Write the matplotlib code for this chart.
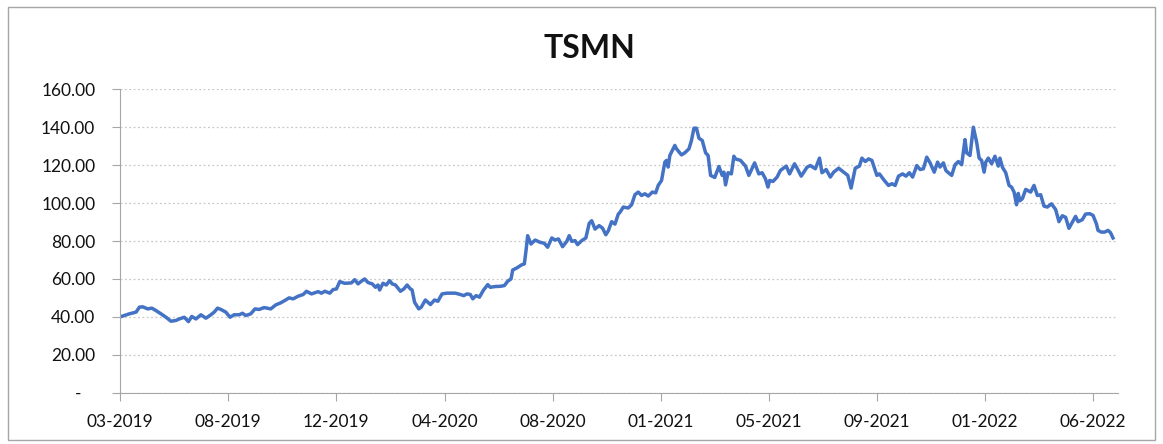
import pandas as pd
import matplotlib.pyplot as plt
import matplotlib.dates as mdates
from matplotlib.patches import Rectangle

# Serie TSMN: dias desde 25-03-2019 y precio de cierre
dias = [0, 11, 19, 23, 27, 33, 38, 43, 49, 55, 61, 67, 71, 77, 82, 86, 91, 97, 103,
        109, 113, 117, 121, 127, 132, 137, 143, 147, 151, 157, 162, 167, 173, 181,
        187, 193, 199, 203, 208, 214, 220, 224, 230, 238, 242, 246, 252, 256, 260,
        264, 270, 278, 282, 286, 290, 294, 298, 303, 307, 310, 312, 316, 320, 324,
        327, 331, 337, 341, 345, 349, 351, 354, 359, 362, 367, 373, 378, 382, 387,
        393, 399, 403, 409, 413, 417, 421, 424, 428, 432, 437, 442, 445, 451, 457,
        462, 466, 470, 472, 477, 483, 486, 488, 490, 494, 499, 505, 510, 514, 519,
        523, 527, 532, 537, 540, 543, 547, 550, 555, 560, 564, 567, 571, 576, 580,
        584, 587, 591, 595, 599, 601, 605, 611, 615, 619, 623, 627, 631, 635, 640,
        644, 647, 651, 655, 657, 659, 661, 667, 669, 675, 679, 684, 687, 690, 693,
        696, 700, 704, 707, 710, 715, 720, 724, 726, 728, 731, 735, 738, 740, 746,
        752, 756, 763, 768, 772, 776, 779, 781, 785, 790, 794, 801, 805, 811, 814,
        819, 826, 830, 836, 841, 844, 849, 854, 858, 864, 870, 875, 879, 884, 889,
        892, 896, 900, 904, 910, 913, 919, 924, 928, 932, 936, 941, 945, 949, 953,
        958, 962, 966, 970, 974, 979, 983, 986, 990, 993, 996, 1000, 1004, 1008,
        1012, 1016, 1018, 1022, 1026, 1030, 1033, 1036, 1039, 1041, 1044, 1048,
        1052, 1056, 1058, 1061, 1065, 1069, 1072, 1075, 1078, 1080, 1082, 1085,
        1089, 1095, 1099, 1103, 1107, 1111, 1115, 1120, 1125, 1129, 1133, 1137,
        1141, 1145, 1149, 1152, 1157, 1161, 1166, 1170, 1174, 1176, 1180, 1184,
        1188, 1191, 1194]

precio = [40.0, 41.6, 42.5, 45.1, 45.3, 44.2, 44.6, 43.3, 41.6, 39.8, 37.7, 38.1, 38.9,
          39.8, 37.5, 40.2, 38.9, 41.1, 39.3, 41.1, 42.5, 44.6, 43.9, 42.5, 39.8, 41.1,
          41.1, 41.9, 40.7, 41.6, 44.2, 43.9, 44.9, 44.2, 46.3, 47.4, 48.9, 50.0, 49.5,
          50.9, 51.8, 53.5, 52.1, 53.3, 52.5, 53.5, 52.5, 54.4, 54.7, 58.6, 57.7, 57.9,
          59.6, 57.4, 58.8, 60.0, 58.1, 57.4, 55.6, 56.8, 54.2, 57.7, 56.8, 59.1, 57.4,
          56.8, 53.5, 54.7, 56.8, 54.7, 54.2, 47.7, 44.2, 45.1, 48.9, 46.5, 48.9, 48.2,
          52.1, 52.5, 52.5, 52.5, 51.8, 51.2, 52.1, 51.8, 49.5, 51.2, 50.4, 54.2, 57.0,
          55.6, 56.0, 56.1, 56.5, 58.8, 60.0, 64.7, 65.8, 67.5, 67.9, 74.9, 82.8, 78.4,
          80.5, 79.3, 78.8, 76.7, 81.6, 80.5, 81.1, 77.0, 79.8, 82.8, 79.8, 80.2, 78.1,
          80.2, 81.6, 89.3, 90.7, 86.3, 88.1, 86.8, 83.3, 85.4, 90.2, 88.9, 94.2, 95.1,
          97.9, 97.4, 99.1, 104.4, 105.8, 104.0, 104.9, 103.7, 105.8, 105.4, 109.3,
          111.9, 121.6, 122.5, 119.0, 125.1, 130.4, 128.6, 125.4, 126.5, 128.6, 133.0,
          139.5, 139.5, 134.2, 133.0, 126.5, 125.1, 114.6, 113.5, 119.3, 114.6, 116.3,
          109.6, 116.0, 115.4, 124.7, 123.3, 122.5, 119.5, 114.6, 121.2, 115.4, 116.0,
          112.8, 108.4, 111.9, 111.4, 113.7, 117.2, 119.5, 115.4, 120.7, 118.4, 114.2,
          118.9, 119.8, 118.1, 123.7, 116.0, 117.7, 113.7, 116.3, 118.4, 116.3, 114.6,
          107.9, 118.4, 119.5, 123.7, 121.9, 123.3, 122.5, 114.6, 115.4, 111.9, 109.3,
          110.2, 109.3, 114.2, 115.4, 114.2, 116.0, 113.7, 119.8, 117.7, 118.1, 124.2,
          121.2, 116.3, 121.6, 119.0, 121.2, 117.2, 116.0, 114.6, 120.2, 121.9, 120.2,
          133.5, 126.5, 125.1, 140.0, 132.1, 123.7, 122.5, 116.3, 121.6, 123.7, 120.7,
          124.7, 119.5, 123.7, 118.9, 116.0, 109.3, 108.4, 105.8, 99.1, 105.1, 101.2,
          102.3, 107.2, 105.8, 109.3, 104.0, 104.4, 98.4, 97.9, 99.6, 96.6, 90.2, 93.3,
          92.5, 86.7, 89.8, 93.0, 90.2, 91.2, 94.2, 94.4, 93.5, 89.1, 85.6, 84.7, 84.7,
          85.6, 84.4, 81.6]

inicio = pd.Timestamp('2019-03-25')
fechas = inicio + pd.to_timedelta(dias, unit='D')

# marcas del eje x (cada 130 dias, como en Excel)
marcas = ['2019-03-25', '2019-08-02', '2019-12-10', '2020-04-18', '2020-08-26',
          '2021-01-03', '2021-05-13', '2021-09-20', '2022-01-28', '2022-06-07']

plt.rcParams['font.family'] = ['Lato', 'DejaVu Sans']

fig = plt.figure(figsize=(11.63, 4.44), dpi=100)
fig.patches.append(Rectangle((0.007, 0.008), 0.986, 0.976, transform=fig.transFigure,
                             fill=False, edgecolor='#a6a6a6', linewidth=1.0))
ax = fig.add_axes([0.1034, 0.1155, 0.8579, 0.6834])

ax.plot(fechas, precio, color='#4472C4', linewidth=2.5)

ax.set_ylim(0, 160)
ax.set_yticks(range(0, 161, 20))
ax.yaxis.set_major_formatter(plt.FuncFormatter(lambda v, p: '-   ' if v == 0 else f'{v:.2f}'))
ax.set_xlim(inicio, inicio + pd.Timedelta(days=1200))
ax.set_xticks(pd.to_datetime(marcas))
ax.xaxis.set_major_formatter(mdates.DateFormatter('%m-%Y'))

ax.grid(axis='y', color='#c8c8c8', linestyle=(0, (1.5, 2)), linewidth=0.9)
ax.set_axisbelow(True)
for s in ['top', 'right']:
    ax.spines[s].set_visible(False)
for s in ['left', 'bottom']:
    ax.spines[s].set_color('#a6a6a6')
ax.tick_params(axis='y', length=6, color='#a6a6a6', labelsize=12.5, pad=12, labelcolor='#111111')
ax.tick_params(axis='x', length=6, color='#a6a6a6', labelsize=12.5, pad=9, labelcolor='#111111')

fig.text(0.507, 0.89, 'TSMN', ha='center', va='center', fontsize=23, fontweight='bold',
         color='#111111')

fig.savefig('out.png', dpi=100)
